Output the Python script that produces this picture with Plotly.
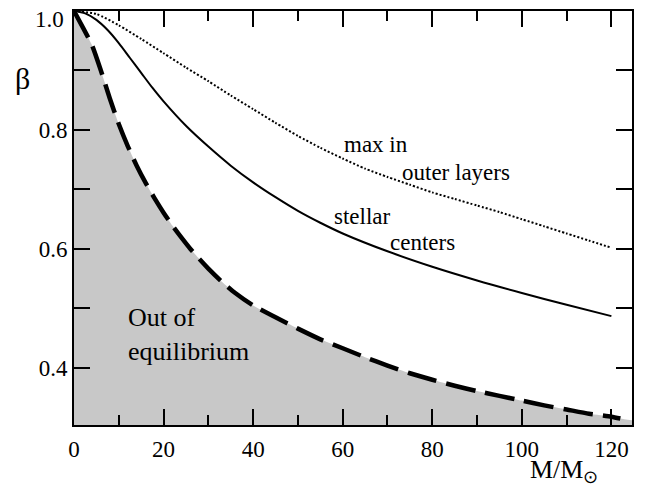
import plotly.graph_objects as go

# Data
mass = [0, 2, 4, 6, 8, 10, 12, 14, 16, 18, 20, 22, 24, 26, 28, 30, 33, 36, 40, 45, 50, 55, 60, 65, 70, 75, 80, 85, 90, 95, 100, 105, 110, 115, 120, 122]
beta_min = [1.0, 0.972, 0.943, 0.900, 0.853, 0.810, 0.773, 0.740, 0.711, 0.685, 0.661, 0.639, 0.619, 0.600, 0.583, 0.567, 0.545, 0.526, 0.505, 0.485, 0.466, 0.448, 0.433, 0.418, 0.404, 0.391, 0.380, 0.370, 0.361, 0.353, 0.345, 0.337, 0.330, 0.323, 0.318, 0.315]
fill_edge_mass = [124.6]
fill_edge_beta = [0.312]

mass_c = [0, 2.5, 5, 7.5, 10, 12.5, 15, 17.5, 20, 25, 30, 35, 40, 45, 50, 55, 60, 70, 80, 90, 100, 110, 120]
beta_center = [1.0, 0.996, 0.985, 0.968, 0.946, 0.921, 0.896, 0.871, 0.848, 0.807, 0.772, 0.740, 0.712, 0.687, 0.664, 0.644, 0.626, 0.596, 0.570, 0.547, 0.526, 0.506, 0.487]

mass_o = [0, 5, 10, 15, 20, 25, 30, 35, 40, 45, 50, 55, 60, 65, 70, 75, 80, 85, 90, 95, 100, 105, 110, 115, 120]
beta_outer = [1.0, 0.995, 0.976, 0.953, 0.929, 0.905, 0.882, 0.858, 0.835, 0.812, 0.790, 0.770, 0.752, 0.735, 0.721, 0.708, 0.695, 0.684, 0.673, 0.662, 0.650, 0.638, 0.626, 0.614, 0.602]

x_major = [0, 20, 40, 60, 80, 100, 120]
y_major = [0.4, 0.6, 0.8]
y_labels = ["0.4", "0.6", "0.8"]
y_top = 1.0
y_top_label = "1.0"

FONT = "Times New Roman, Liberation Serif, serif"

fig = go.Figure()

# gray region (out of equilibrium)
fig.add_trace(go.Scatter(
    x=mass + fill_edge_mass, y=beta_min + fill_edge_beta,
    mode="lines", line=dict(width=0, shape="spline", smoothing=0.6),
    fill="tozeroy", fillcolor="#c8c8c8", hoverinfo="skip", showlegend=False))

fig.add_trace(go.Scatter(
    x=mass, y=beta_min, mode="lines",
    line=dict(color="black", width=4.5, dash="30px,10px", shape="spline", smoothing=0.6),
    showlegend=False))

fig.add_trace(go.Scatter(
    x=mass_c, y=beta_center, mode="lines",
    line=dict(color="black", width=2, shape="spline", smoothing=0.8), showlegend=False))

fig.add_trace(go.Scatter(
    x=mass_o, y=beta_outer, mode="lines",
    line=dict(color="black", width=2, dash="2px,2px", shape="spline", smoothing=0.6), showlegend=False))

notes = [
    ("max in", 59.8, 0.775, 23),
    ("outer layers", 72.8, 0.729, 23),
    ("stellar", 57.6, 0.654, 23),
    ("centers", 70.1, 0.610, 23),
    ("Out of", 11.6, 0.485, 26),
    ("equilibrium", 11.6, 0.428, 26),
]
for txt, xx, yy, sz in notes:
    fig.add_annotation(x=xx, y=yy, xref="x", yref="y", text=txt, showarrow=False,
                       xanchor="left", yanchor="middle",
                       font=dict(family=FONT, size=sz, color="black"))

# top y tick label, nudged down as in the reference
fig.add_annotation(x=0, y=y_top, xref="paper", yref="y", text=y_top_label, showarrow=False,
                   xanchor="right", yanchor="middle", xshift=-8, yshift=-8,
                   font=dict(family=FONT, size=23, color="black"))

fig.add_annotation(x=-0.093, y=0.838, xref="paper", yref="paper", text="β", showarrow=False,
                   xanchor="center", yanchor="middle", font=dict(family=FONT, size=30, color="black"))
fig.add_annotation(x=0.878, y=-0.068, xref="paper", yref="paper", text="M/M<sub>⊙</sub>",
                   showarrow=False, xanchor="center", yanchor="top",
                   font=dict(family=FONT, size=26, color="black"))

fig.update_xaxes(range=[0, 124.6], tickvals=x_major, ticktext=[str(v) for v in x_major],
                 ticks="inside", ticklen=16, tickwidth=1.5, tickcolor="black",
                 minor=dict(dtick=10, tick0=0, ticks="inside", ticklen=10, tickwidth=1.5, tickcolor="black"),
                 showline=True, linecolor="black", linewidth=2, mirror="allticks",
                 showgrid=False, zeroline=False, ticklabelstandoff=2, automargin=False,
                 ticklabeloverflow="allow",
                 tickfont=dict(family=FONT, size=23, color="black"))
fig.update_yaxes(range=[0.304, y_top], tickvals=y_major, ticktext=y_labels,
                 ticks="inside", ticklen=16, tickwidth=1.5, tickcolor="black",
                 minor=dict(dtick=0.1, tick0=0.4, ticks="inside", ticklen=16, tickwidth=1.5, tickcolor="black"),
                 showline=True, linecolor="black", linewidth=2, mirror="allticks",
                 showgrid=False, zeroline=False, ticklabelstandoff=0, automargin=False,
                 ticklabeloverflow="allow",
                 tickfont=dict(family=FONT, size=23, color="black"))

fig.update_layout(width=649, height=479, margin=dict(l=66, r=25, t=3, b=62, autoexpand=False),
                  paper_bgcolor="white", plot_bgcolor="white",
                  font=dict(family=FONT, color="black"))

fig.write_html("out.html")
